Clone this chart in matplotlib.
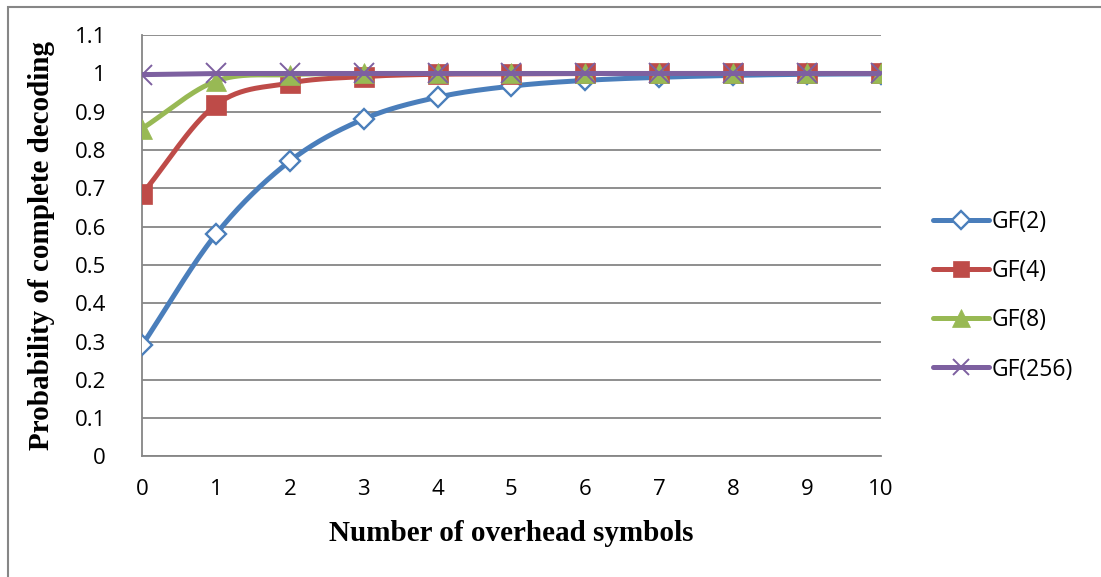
import numpy as np
import matplotlib
matplotlib.use("Agg")
import matplotlib.pyplot as plt
from matplotlib.lines import Line2D
from matplotlib.patches import Rectangle

overhead = [0, 1, 2, 3, 4, 5, 6, 7, 8, 9, 10]
gf2 = [0.29, 0.58, 0.771, 0.881, 0.938, 0.967, 0.982, 0.990, 0.995, 0.998, 0.999]
gf4 = [0.685, 0.918, 0.975, 0.992, 0.998, 0.999, 1.0, 1.0, 1.0, 1.0, 1.0]
gf8 = [0.856, 0.98, 0.997, 1.0, 1.0, 1.0, 1.0, 1.0, 1.0, 1.0, 1.0]
gf256 = [0.997, 1.0, 1.0, 1.0, 1.0, 1.0, 1.0, 1.0, 1.0, 1.0, 1.0]
labels = ["GF(2)", "GF(4)", "GF(8)", "GF(256)"]
yticks = [0, 0.1, 0.2, 0.3, 0.4, 0.5, 0.6, 0.7, 0.8, 0.9, 1, 1.1]
ytick_labels = ["0", "0.1", "0.2", "0.3", "0.4", "0.5", "0.6", "0.7", "0.8", "0.9", "1", "1.1"]

colors = ["#4A7EBB", "#BE4B48", "#98B954", "#7D60A0"]
GRID = "#868686"
LW = 3.6


def smooth(x, y, n=30):
    """Catmull-Rom style smoothing through every point, with linearly extended ends."""
    x = np.asarray(x, float)
    y = np.asarray(y, float)
    px = np.concatenate([[2 * x[0] - x[1]], x, [2 * x[-1] - x[-2]]])
    py = np.concatenate([[2 * y[0] - y[1]], y, [2 * y[-1] - y[-2]]])
    xs, ys = [], []
    t = np.linspace(0, 1, n, endpoint=False)
    for i in range(1, len(px) - 2):
        p0, p1, p2, p3 = px[i - 1], px[i], px[i + 1], px[i + 2]
        q0, q1, q2, q3 = py[i - 1], py[i], py[i + 1], py[i + 2]
        t1 = (p2 - p0) / 6.0
        t2 = (p3 - p1) / 6.0
        u1 = (q2 - q0) / 6.0
        u2 = (q3 - q1) / 6.0
        b0 = (1 - t) ** 3
        b1 = 3 * t * (1 - t) ** 2
        b2 = 3 * t ** 2 * (1 - t)
        b3 = t ** 3
        xs.append(b0 * p1 + b1 * (p1 + t1) + b2 * (p2 - t2) + b3 * p2)
        ys.append(b0 * q1 + b1 * (q1 + u1) + b2 * (q2 - u2) + b3 * q2)
    xs.append([x[-1]])
    ys.append([y[-1]])
    return np.concatenate(xs), np.minimum(np.concatenate(ys), max(y))


fig = plt.figure(figsize=(11.01, 5.77), dpi=100)
ax = fig.add_axes([0.129, 0.209, 0.671, 0.730])

series = [gf2, gf4, gf8, gf256]
markers = [
    dict(marker="D", ms=10.5, mfc="white", mec=colors[0], mew=1.7),
    dict(marker="s", ms=14, mfc=colors[1], mec=colors[1], mew=0.5),
    dict(marker="^", ms=15, mfc=colors[2], mec=colors[2], mew=0.5),
    dict(marker="x", ms=14, mfc=colors[3], mec=colors[3], mew=1.4),
]

for k, (vals, col, mk) in enumerate(zip(series, colors, markers)):
    sx, sy = smooth(overhead, vals)
    ax.plot(sx, sy, color=col, lw=LW, solid_capstyle="round", zorder=3 + k)
    ax.plot(overhead, vals, linestyle="none", zorder=3 + k, **mk)

ax.set_xlim(0, 10)
ax.set_ylim(0, 1.1)
ax.set_yticks(yticks)
ax.set_yticklabels(ytick_labels)
ax.set_xticks(overhead)
ax.yaxis.grid(True, color=GRID, lw=1.3)
ax.set_axisbelow(True)
for side in ["top", "right"]:
    ax.spines[side].set_visible(False)
for side in ["left", "bottom"]:
    ax.spines[side].set_color(GRID)
    ax.spines[side].set_linewidth(1.3)
ax.tick_params(axis="x", length=0, labelsize=16, pad=16)
ax.tick_params(axis="y", length=0, labelsize=16, pad=26)
for lab in ax.get_yticklabels():
    lab.set_horizontalalignment("right")
for lab in ax.get_xticklabels() + ax.get_yticklabels():
    lab.set_fontfamily("Open Sans")

ax.set_xlabel("Number of overhead symbols", family="Liberation Serif",
              fontweight="bold", fontsize=21, labelpad=15)
ax.set_ylabel("Probability of complete decoding", family="Liberation Serif",
              fontweight="bold", fontsize=21, labelpad=14)

handles = [
    Line2D([], [], color=c, lw=LW, solid_capstyle="round", **{**m, "ms": m["ms"] * 0.85})
    for c, m in zip(colors, markers)
]
leg = fig.legend(handles, labels, loc="upper left", bbox_to_anchor=(0.829, 0.672),
                 frameon=False, handlelength=2.45, handletextpad=0.08,
                 labelspacing=1.1, prop={"family": "Open Sans", "size": 16.5})

fig.patches.append(Rectangle((8 / 1101, -0.1), 1.2, 1 - 6.5 / 577 + 0.1,
                             transform=fig.transFigure, fill=False,
                             edgecolor=GRID, lw=1.5))

fig.savefig("out.png", dpi=100)
